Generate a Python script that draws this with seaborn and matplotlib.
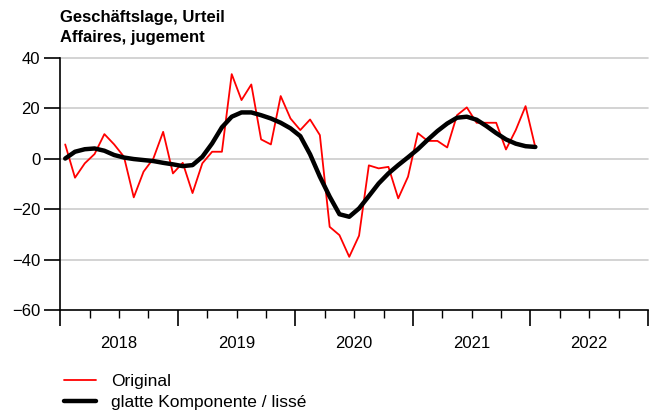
import numpy as np
import pandas as pd
import matplotlib
matplotlib.use("Agg")
import matplotlib.pyplot as plt
import seaborn as sns

# ---------------------------------------------------------
# DATA (monthly, Jan 2018 - Jan 2022)
# ---------------------------------------------------------
start_year = 2018
original = [
    5.7, -7.5, -1.8, 1.9, 9.8, 5.7, 0.8, -15.3, -5.1, 0.1, 10.7, -5.8,      # 2018
    -1.6, -13.6, -1.8, 2.8, 2.8, 33.6, 23.3, 29.5, 7.7, 5.7, 24.9, 16.0,    # 2019
    11.4, 15.6, 9.4, -27.0, -30.3, -38.9, -30.5, -2.6, -3.8, -3.2, -15.7, -7.1,  # 2020
    10.2, 7.1, 7.1, 4.5, 17.3, 20.4, 14.3, 14.3, 14.3, 3.7, 11.4, 20.9,     # 2021
    4.5,                                                                    # 2022
]
smooth = [
    0.1, 2.8, 3.8, 4.1, 3.2, 1.5, 0.5, -0.1, -0.5, -0.9, -1.6, -2.2,
    -2.9, -2.5, 0.8, 6.1, 12.5, 16.7, 18.4, 18.4, 17.3, 16.0, 14.3, 12.1,
    9.0, 1.8, -7.1, -15.0, -22.0, -23.0, -19.7, -14.8, -9.8, -5.8, -2.5, 0.6,
    3.8, 7.5, 11.0, 14.0, 16.3, 16.7, 15.5, 13.0, 10.2, 7.7, 6.0, 5.0,
    4.7,
]
years = [2018, 2019, 2020, 2021, 2022]
yticks = [-60, -40, -20, 0, 20, 40]
title_lines = ["Geschäftslage, Urteil", "Affaires, jugement"]
legend_labels = ["Original", "glatte Komponente / lissé"]

n = len(original)
df = pd.DataFrame({
    "x": start_year + (np.arange(n) + 0.5) / 12.0,
    "original": original,
    "smooth": smooth,
})

# ---------------------------------------------------------
# STYLE
# ---------------------------------------------------------
sns.set_style("white")
plt.rcParams['font.family'] = ['Liberation Sans', 'DejaVu Sans']
plt.rcParams['font.size'] = 12
plt.rcParams['text.color'] = 'black'
plt.rcParams['xtick.color'] = 'black'
plt.rcParams['ytick.color'] = 'black'

W, H = 657, 417
fig = plt.figure(figsize=(W / 100, H / 100), dpi=100)
ax = fig.add_axes([60.3 / W, 1 - 310 / H, (648 - 60.3) / W, (310 - 58) / H])

# gridlines
for v in yticks[1:]:
    ax.axhline(v, color='#cccccc', lw=1.2, zorder=0, clip_on=False)

sns.lineplot(data=df, x="x", y="original", ax=ax, color='#ff0000', lw=1.3,
             label=legend_labels[0], zorder=3)
sns.lineplot(data=df, x="x", y="smooth", ax=ax, color='black', lw=3.2,
             label=legend_labels[1], zorder=4, solid_capstyle='round')

ax.set_xlim(2018, 2023)
ax.set_ylim(-60, 40)
ax.set_xlabel("")
ax.set_ylabel("")

for s in ['top', 'right']:
    ax.spines[s].set_visible(False)
for s in ['left', 'bottom']:
    ax.spines[s].set_color('black')
    ax.spines[s].set_linewidth(1.2)

ax.set_yticks(yticks)
ax.set_yticklabels([str(v).replace('-', '\u2212') for v in yticks])
ax.tick_params(axis='y', direction='out', length=11.5, width=1.2, pad=3,
               colors='black', labelsize=12, left=True)

ax.set_xticks(list(range(2018, 2024)))
ax.set_xticklabels([])
ax.set_xticks(np.arange(2018, 2023.01, 0.25), minor=True)
ax.tick_params(axis='x', which='major', direction='out', length=11.5, width=1.2,
               bottom=True)
ax.tick_params(axis='x', which='minor', direction='out', length=5.5, width=1.0,
               bottom=True)

for yr in years:
    ax.text(yr + 0.5, -33 / 252, str(yr), transform=ax.get_xaxis_transform(),
            ha='center', va='center', fontsize=12, color='black')

# title
fig.text(60 / W, 1 - 21.7 / H, title_lines[0], fontsize=12, fontweight='bold',
         va='baseline', ha='left', color='black')
fig.text(60 / W, 1 - 41.7 / H, title_lines[1], fontsize=12, fontweight='bold',
         va='baseline', ha='left', color='black')

# legend
ax.get_legend().remove()
handles, labels = ax.get_legend_handles_labels()
leg = fig.legend(handles, labels, loc='upper left',
                 bbox_to_anchor=(63.5 / W, 1 - 374 / H), frameon=False,
                 borderpad=0, borderaxespad=0, handlelength=1.9,
                 handletextpad=0.85, labelspacing=0.32, fontsize=12.5)
for t in leg.get_texts():
    t.set_color('black')

fig.savefig("out.png", dpi=100)
